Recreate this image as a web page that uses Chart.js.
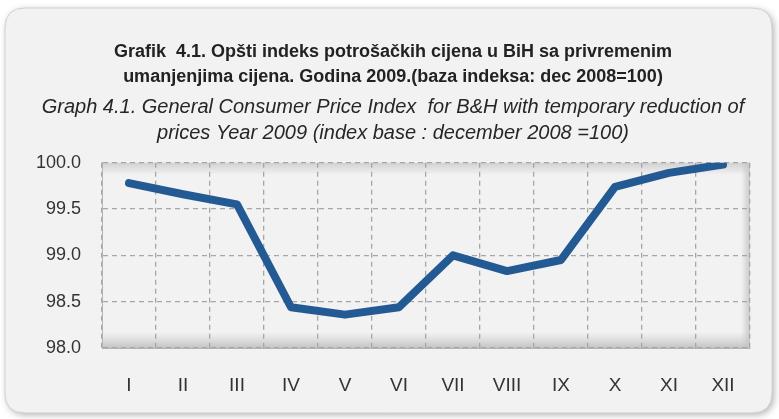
<!DOCTYPE html>
<html>
<head>
<meta charset="utf-8">
<script src="https://cdn.jsdelivr.net/npm/chart.js@4"></script>
<style>
  html, body { margin: 0; padding: 0; background: #ffffff; }
  #wrap { width: 779px; height: 419px; }
</style>
</head>
<body>
<div id="wrap"><canvas id="cpiChart" width="779" height="419"></canvas></div>
<script>
// data
var months = ['I', 'II', 'III', 'IV', 'V', 'VI', 'VII', 'VIII', 'IX', 'X', 'XI', 'XII'];
var cpiValues = [99.78, 99.66, 99.55, 98.44, 98.36, 98.44, 99.00, 98.83, 98.95, 99.74, 99.89, 99.98];
var titleLines = [
    'Grafik  4.1. Opšti indeks potrošačkih cijena u BiH sa privremenim',
    'umanjenjima cijena. Godina 2009.(baza indeksa: dec 2008=100)'
];
var subtitleLines = [
    'Graph 4.1. General Consumer Price Index  for B&H with temporary reduction of',
    'prices Year 2009 (index base : december 2008 =100)'
];

var narrow = '"Liberation Sans Narrow", "Liberation Sans", Arial, sans-serif';
var sans = '"Liberation Sans", Arial, sans-serif';

function roundRect(ctx, x, y, w, h, r) {
    ctx.beginPath();
    ctx.moveTo(x + r, y);
    ctx.lineTo(x + w - r, y);
    ctx.quadraticCurveTo(x + w, y, x + w, y + r);
    ctx.lineTo(x + w, y + h - r);
    ctx.quadraticCurveTo(x + w, y + h, x + w - r, y + h);
    ctx.lineTo(x + r, y + h);
    ctx.quadraticCurveTo(x, y + h, x, y + h - r);
    ctx.lineTo(x, y + r);
    ctx.quadraticCurveTo(x, y, x + r, y);
    ctx.closePath();
}

// frame + shaded plot area, drawn before the grid
var backdrop = {
    id: 'backdrop',
    beforeDraw: function(chart) {
        var ctx = chart.ctx;
        var a = chart.chartArea;
        ctx.save();
        ctx.fillStyle = '#ffffff';
        ctx.fillRect(0, 0, chart.width, chart.height);

        ctx.shadowColor = 'rgba(0,0,0,0.3)';
        ctx.shadowBlur = 7;
        ctx.shadowOffsetX = 2;
        ctx.shadowOffsetY = 2;
        roundRect(ctx, 5, 8, 767, 405, 20);
        ctx.fillStyle = '#f2f2f2';
        ctx.fill();
        ctx.shadowColor = 'transparent';
        ctx.strokeStyle = '#d0d0d0';
        ctx.lineWidth = 1;
        ctx.stroke();

        // plot area
        ctx.fillStyle = '#f2f2f2';
        ctx.fillRect(a.left, a.top, a.width, a.height);
        var g = ctx.createLinearGradient(0, a.bottom - 16, 0, a.bottom);
        g.addColorStop(0, 'rgba(200,200,200,0)');
        g.addColorStop(1, 'rgba(190,190,190,0.9)');
        ctx.fillStyle = g;
        ctx.fillRect(a.left, a.bottom - 16, a.width, 16);
        g = ctx.createLinearGradient(0, a.top, 0, a.top + 12);
        g.addColorStop(0, 'rgba(205,205,205,0.9)');
        g.addColorStop(1, 'rgba(205,205,205,0)');
        ctx.fillStyle = g;
        ctx.fillRect(a.left, a.top, a.width, 12);
        g = ctx.createLinearGradient(a.right - 9, 0, a.right, 0);
        g.addColorStop(0, 'rgba(200,200,200,0)');
        g.addColorStop(1, 'rgba(195,195,195,0.9)');
        ctx.fillStyle = g;
        ctx.fillRect(a.right - 9, a.top, 9, a.height);
        ctx.strokeStyle = '#9a9a9a';
        ctx.beginPath();
        ctx.moveTo(a.left, a.bottom + 0.5);
        ctx.lineTo(a.right, a.bottom + 0.5);
        ctx.stroke();
        ctx.restore();
    }
};

var ctx = document.getElementById('cpiChart').getContext('2d');
var cpiChart = new Chart(ctx, {
    type: 'line',
    data: {
        labels: months,
        datasets: [{
            data: cpiValues,
            borderColor: '#245a94',
            borderWidth: 8,
            borderCapStyle: 'round',
            borderJoinStyle: 'round',
            pointRadius: 0,
            tension: 0,
            fill: false
        }]
    },
    options: {
        responsive: false,
        animation: false,
        layout: {
            padding: { left: 36, right: 29, top: 0, bottom: 22 }
        },
        plugins: {
            legend: { display: false },
            tooltip: { enabled: false },
            title: {
                display: true,
                text: titleLines,
                color: '#222222',
                font: { family: narrow, size: 18, weight: 'bold', lineHeight: 1.37 },
                padding: { top: 40, bottom: 6 }
            },
            subtitle: {
                display: true,
                text: subtitleLines,
                color: '#262626',
                font: { family: narrow, size: 20, style: 'italic', lineHeight: 1.26 },
                padding: { top: 0, bottom: 17 }
            }
        },
        scales: {
            x: {
                offset: true,
                afterFit: function(scale) { scale.height = 49; },
                grid: {
                    offset: true,
                    color: '#a6a6a6',
                    lineWidth: 1.3,
                    drawTicks: false
                },
                border: { display: true, color: '#b4b4b4', dash: [5, 4] },
                ticks: {
                    color: '#333333',
                    font: { family: sans, size: 19 },
                    padding: 26
                }
            },
            y: {
                min: 98,
                max: 100,
                afterFit: function(scale) { scale.width = 66; },
                grid: {
                    color: '#a6a6a6',
                    lineWidth: 1.3,
                    drawTicks: false
                },
                border: { display: true, color: '#b4b4b4', dash: [5, 4] },
                ticks: {
                    stepSize: 0.5,
                    color: '#333333',
                    font: { family: sans, size: 18 },
                    padding: 21,
                    callback: function(v) { return v.toFixed(1); }
                }
            }
        }
    },
    plugins: [backdrop]
});
</script>
</body>
</html>
